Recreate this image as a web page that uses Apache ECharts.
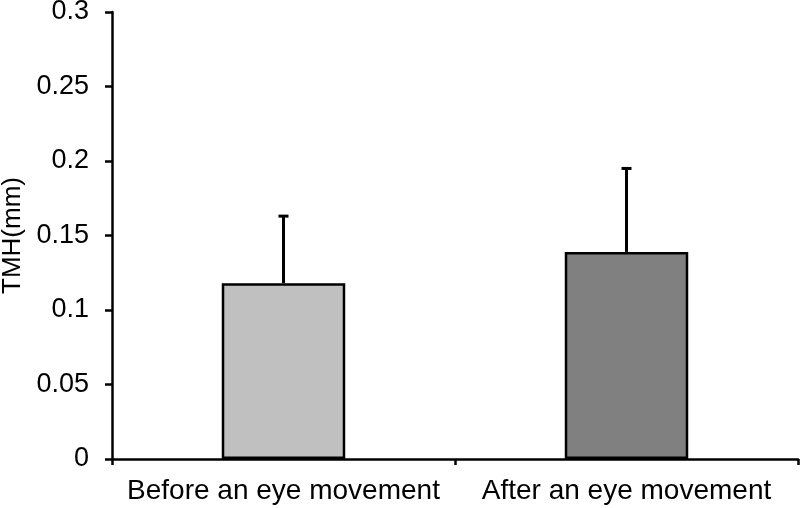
<!DOCTYPE html>
<html><head><meta charset="utf-8">
<script src="https://cdn.jsdelivr.net/npm/echarts@6/dist/echarts.min.js"></script>
<style>html,body{margin:0;padding:0;background:#fff}#c{width:800px;height:508px}</style>
</head><body><div id="c"></div>
<script>
const categories = ['Before an eye movement', 'After an eye movement'];
const means = [0.118, 0.139];
const errTops = [0.163, 0.195];
const barColors = ['#c0c0c0', '#808080'];
const yTicks = [0, 0.05, 0.1, 0.15, 0.2, 0.25, 0.3];

const chart = echarts.init(document.getElementById('c'));
const font = 'Liberation Sans, Arial, sans-serif';
chart.setOption({
  animation: false,
  grid: {left: 112, right: 2, top: 12, bottom: 49, containLabel: false, outerBoundsMode: 'none'},
  xAxis: {
    type: 'category', data: categories,
    axisLine: {lineStyle: {color: '#000', width: 2.5}},
    axisTick: {show: true, length: 6, lineStyle: {color: '#000', width: 2.5}},
    axisLabel: {color: '#000', fontSize: 28, fontFamily: font, margin: 18, interval: 0, hideOverlap: false}
  },
  yAxis: {
    type: 'value', min: 0, max: 0.3, interval: 0.05,
    name: 'TMH(mm)', nameLocation: 'middle', nameGap: 85, nameRotate: 90,
    nameTextStyle: {color: '#000', fontSize: 26, fontFamily: font},
    splitLine: {show: false},
    axisLine: {show: true, lineStyle: {color: '#000', width: 2.5}},
    axisTick: {show: true, length: 7, lineStyle: {color: '#000', width: 2.5}},
    axisLabel: {color: '#000', fontSize: 27, fontFamily: font, margin: 23,
      formatter: v => String(parseFloat(v.toFixed(2)))}
  },
  series: [
    {
      type: 'custom',
      z: 1,
      renderItem: (params, api) => {
        const i = api.value(0);
        const top = api.coord([i, api.value(2)]);
        const base = api.coord([i, api.value(1)]);
        return {type: 'group', children: [
          {type: 'line', shape: {x1: top[0], y1: top[1], x2: base[0], y2: base[1]}, style: {stroke: '#000', lineWidth: 3}},
          {type: 'line', shape: {x1: top[0]-5, y1: top[1], x2: top[0]+5, y2: top[1]}, style: {stroke: '#000', lineWidth: 3}}
        ]};
      },
      data: categories.map((c, i) => [i, means[i], errTops[i]])
    },
    {
      type: 'bar', z: 2, barWidth: '36%',
      data: means.map((v, i) => ({value: v, itemStyle: {color: barColors[i], borderColor: '#000', borderWidth: 2.5}}))
    }
  ]
});
</script></body></html>
